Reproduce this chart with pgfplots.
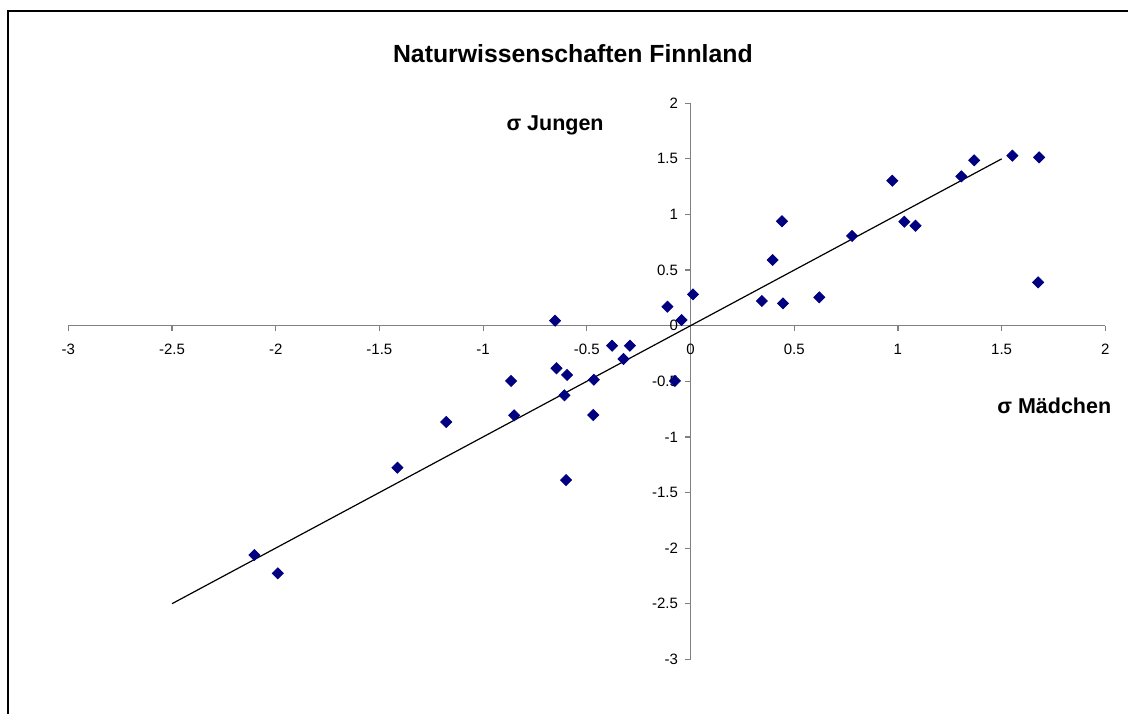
\documentclass[border=0pt]{standalone}
\usepackage{fontspec}
\setmainfont{Liberation Sans}
\usepackage{pgfplots}
\pgfplotsset{compat=1.18}
\definecolor{ptnavy}{HTML}{000080}
\definecolor{axgray}{HTML}{808080}

\begin{document}
\begin{tikzpicture}
\useasboundingbox (0,0) rectangle (564pt,356.5pt);
\draw[line width=1pt] (3.9pt,-20pt) -- (3.9pt,351pt) -- (620pt,351pt);
\begin{axis}[
  at={(34.15pt,26.85pt)}, anchor=south west,
  scale only axis, width=518.5pt, height=278pt,
  xmin=-3, xmax=2, ymin=-3, ymax=2,
  axis lines=middle,
  axis line style={axgray, line width=0.7pt, -},
  xtick={-3,-2.5,...,2}, ytick={-3,-2.5,...,2},
  hide obscured x ticks=false, hide obscured y ticks=false,
  tick align=outside, major tick length=2.75pt,
  tick style={axgray, line width=0.6pt},
  /pgf/number format/assume math mode=true,
  ticklabel style={font=\fontsize{7.5}{9}\selectfont},
  xticklabel style={anchor=north, yshift=-3pt},
  yticklabel style={anchor=east, xshift=0pt},
  clip=false,
]
\addplot[only marks, mark=square*, mark size=1.95pt,
  mark options={rotate=45, fill=ptnavy, draw=ptnavy}] coordinates {
  (-2.103,-2.062) (-1.990,-2.227) (-1.413,-1.277) (-1.178,-0.866)
  (-0.653,0.045) (-0.865,-0.497) (-0.850,-0.806) (-0.646,-0.383)
  (-0.595,-0.443) (-0.608,-0.626) (-0.600,-1.388) (-0.466,-0.486)
  (-0.469,-0.803) (-0.378,-0.180) (-0.292,-0.180) (-0.323,-0.299)
  (-0.111,0.171) (-0.043,0.051) (0.012,0.282) (-0.075,-0.497)
  (0.344,0.222) (0.446,0.201) (0.396,0.591) (0.441,0.939)
  (0.621,0.255) (0.779,0.807) (0.973,1.304) (1.031,0.935)
  (1.085,0.899) (1.306,1.343) (1.368,1.487) (1.552,1.529)
  (1.681,1.514) (1.676,0.390)};
\addplot[black, line width=0.6pt, no marks] coordinates {(-2.5,-2.5) (1.5,1.5)};
\node[anchor=base, font=\bfseries\fontsize{12.4}{14}\selectfont] at (axis cs:-0.567,2.371) {Naturwissenschaften Finnland};
\node[anchor=base, font=\bfseries\fontsize{10.75}{13}\selectfont] at (axis cs:-0.653,1.751) {σ Jungen};
\node[anchor=base, font=\bfseries\fontsize{10.75}{13}\selectfont] at (axis cs:1.754,-0.788) {σ Mädchen};
\end{axis}
\end{tikzpicture}
\end{document}
